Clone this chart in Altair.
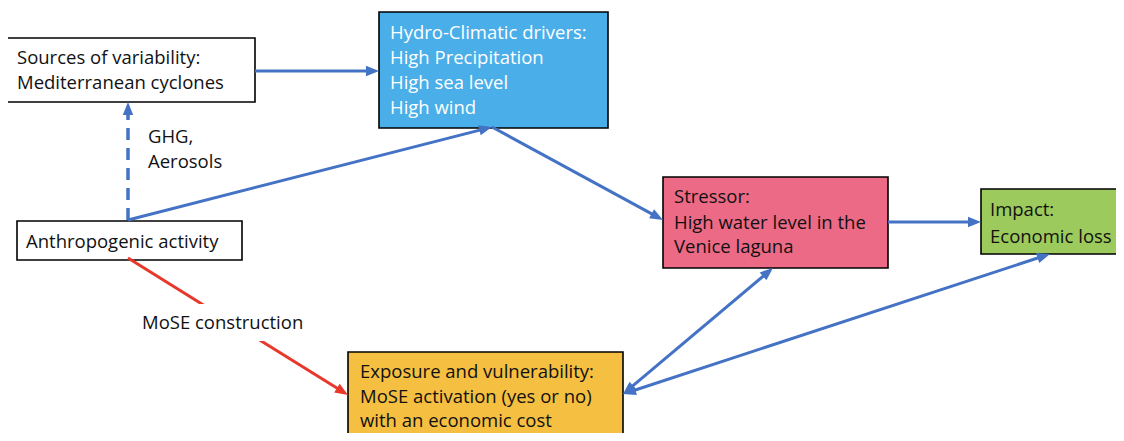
import math
import altair as alt
import pandas as pd

# ---- boxes ----
box_names = ["sources", "hydro", "anthro", "stressor", "impact", "exposure"]
box_x0 = [7, 379, 17, 663, 981, 348]
box_x1 = [255, 608, 242, 888, 1134, 623]
box_y0 = [38, 12, 221, 177, 189, 352]
box_y1 = [102, 128, 260, 268, 254, 452]
box_fill = ["#ffffff", "#4aaee9", "#ffffff", "#ec6a86", "#9dca5c", "#f5bf41"]

# ---- texts ----
text_lines = [
    "Sources of variability:", "Mediterranean cyclones",
    "Hydro-Climatic drivers:", "High Precipitation", "High sea level", "High wind",
    "GHG,", "Aerosols",
    "Anthropogenic activity",
    "Stressor:", "High water level in the", "Venice laguna",
    "Impact:", "Economic loss",
    "MoSE construction",
    "Exposure and vulnerability:", "MoSE activation (yes or no)", "with an economic cost",
]
text_x = [17, 17, 390, 390, 390, 390, 148, 148, 26, 674, 674, 674, 990, 990, 142, 360, 360, 360]
text_y = [58, 83, 33, 58, 83, 108, 137, 162, 242, 197, 223, 247, 210, 237, 323, 372, 397, 421]
text_color = ["#111111"] * 2 + ["#ffffff"] * 4 + ["#111111"] * 12

# ---- arrows ----
ax0 = [255, 128, 128, 492, 888, 623, 623, 128]
ay0 = [71, 220, 220, 127, 222, 394, 394, 258]
ax1 = [379, 128, 492, 663, 981, 773, 1050, 348]
ay1 = [71, 102, 127, 220, 222, 268, 254, 395]
a_color = ["#4472c4"] * 7 + ["#e8382c"]
a_dashed = [False, True, False, False, False, False, False, False]
head_start = [False, False, False, False, False, True, True, False]
head_end = [True] * 8

# backdrop behind "MoSE construction"
bd_x0, bd_x1, bd_y0, bd_y1 = [132], [322], [304], [341]

R = 6.5  # arrowhead half-length

boxes = pd.DataFrame({"x": box_x0, "x2": box_x1, "y": box_y0, "y2": box_y1, "fill": box_fill})
texts = pd.DataFrame({"x": text_x, "y": text_y, "t": text_lines, "c": text_color})

lines, heads = [], []
for i in range(len(ax0)):
    x0, y0, x1, y1 = ax0[i], ay0[i], ax1[i], ay1[i]
    L = math.hypot(x1 - x0, y1 - y0)
    ux, uy = (x1 - x0) / L, (y1 - y0) / L
    sx, sy, ex, ey = x0, y0, x1, y1
    if head_end[i]:
        ex, ey = x1 - ux * R, y1 - uy * R
        ang = math.degrees(math.atan2(ux, -uy)) % 360
        heads.append({"x": ex, "y": ey, "a": ang, "c": a_color[i]})
    if head_start[i]:
        sx, sy = x0 + ux * R, y0 + uy * R
        ang = math.degrees(math.atan2(-ux, uy)) % 360
        heads.append({"x": sx, "y": sy, "a": ang, "c": a_color[i]})
    lines.append({"x": sx, "y": sy, "x2": ex, "y2": ey, "c": a_color[i],
                  "d": "dash" if a_dashed[i] else "solid"})
lines = pd.DataFrame(lines)
heads = pd.DataFrame(heads)
backdrop = pd.DataFrame({"x": bd_x0, "x2": bd_x1, "y": bd_y0, "y2": bd_y1})

xs = alt.Scale(domain=[8, 1116], nice=False, zero=False)
ys = alt.Scale(domain=[8, 433], nice=False, zero=False, reverse=True)
X = lambda f="x": alt.X(f + ":Q", scale=xs, axis=None)
Y = lambda f="y": alt.Y(f + ":Q", scale=ys, axis=None)

rects = alt.Chart(boxes).mark_rect(stroke="#000000", strokeWidth=1.6).encode(
    x=X(), x2="x2:Q", y=Y(), y2="y2:Q", fill=alt.Fill("fill:N", scale=None)
)

solid = alt.Chart(lines[lines.d == "solid"]).mark_rule(strokeWidth=3, strokeCap="butt").encode(
    x=X(), x2="x2:Q", y=Y(), y2="y2:Q", color=alt.Color("c:N", scale=None)
)
dashed = alt.Chart(lines[lines.d == "dash"]).mark_rule(
    strokeWidth=3.5, strokeDash=[12, 8], strokeCap="butt"
).encode(x=X(), x2="x2:Q", y=Y(), y2="y2:Q", color=alt.Color("c:N", scale=None))

bd = alt.Chart(backdrop).mark_rect(fill="#ffffff").encode(x=X(), x2="x2:Q", y=Y(), y2="y2:Q")

arrowheads = alt.Chart(heads).mark_point(
    shape="M0,-1L-0.8,1L0.8,1Z", filled=True, opacity=1, size=(2 * R) ** 2, strokeWidth=0
).encode(
    x=X(), y=Y(), angle=alt.Angle("a:Q", scale=None), color=alt.Color("c:N", scale=None)
)

labels = alt.Chart(texts).mark_text(
    align="left", baseline="middle", font="Open Sans", fontSize=18.5
).encode(x=X(), y=Y(), text="t:N", color=alt.Color("c:N", scale=None))

chart = alt.layer(rects, solid, dashed, bd, arrowheads, labels).properties(
    width=1108, height=425, padding=0, autosize=alt.AutoSizeParams(type="none")
).configure_view(stroke=None)

chart.save("out.html", embed_options={"renderer": "svg", "actions": False})
